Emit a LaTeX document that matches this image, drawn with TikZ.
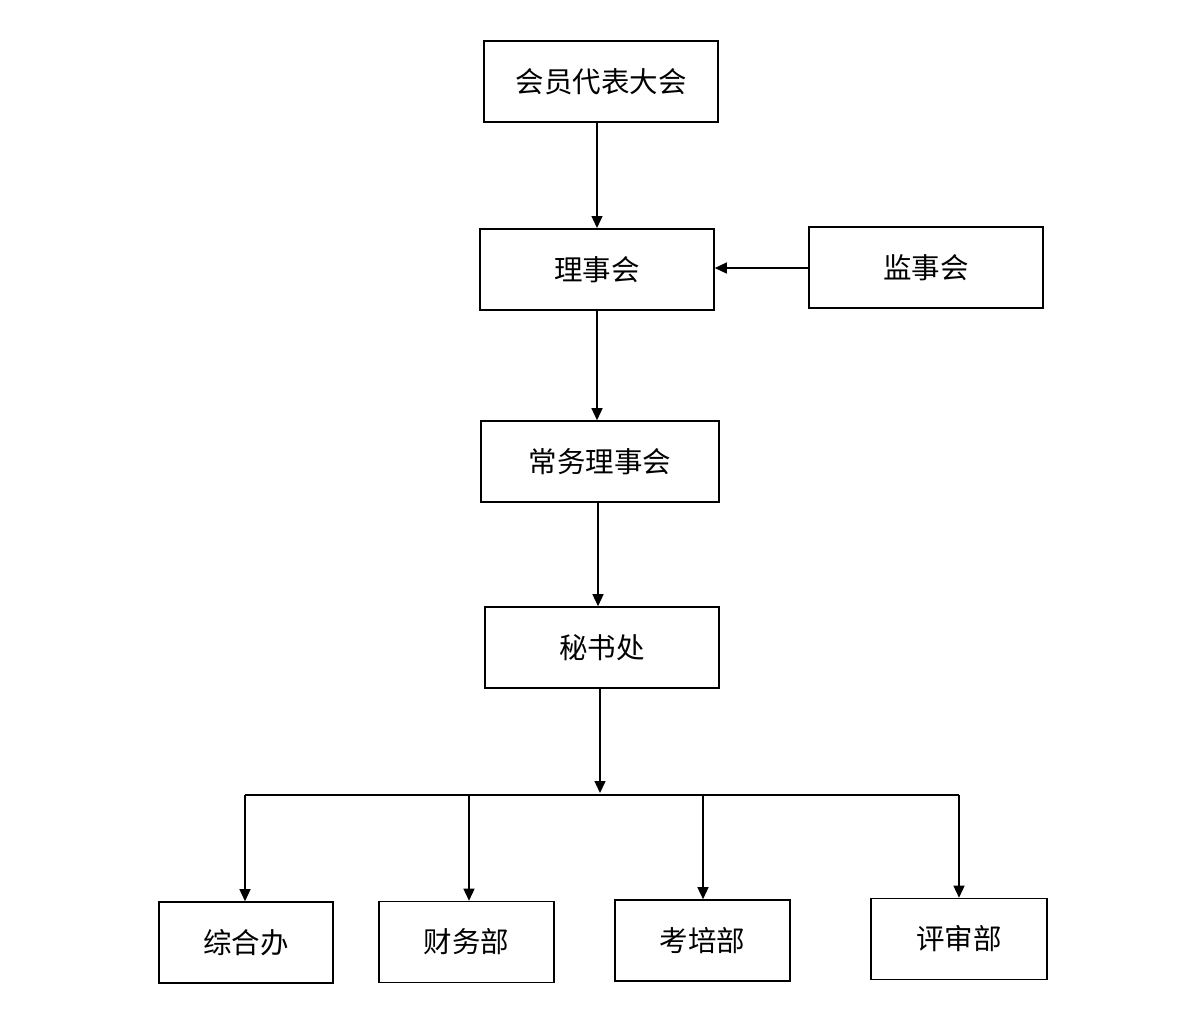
\documentclass[tikz,border=0pt]{standalone}
\usepackage{fontspec}
\newfontfamily\cjk{Noto Sans CJK SC}
\usetikzlibrary{arrows.meta}
\begin{document}
\begin{tikzpicture}[x=1pt,y=-1pt,
  box/.style={draw,line width=1.6pt,minimum height=81pt,inner sep=0pt,font=\cjk\fontsize{28.5}{32}\selectfont},
  arr/.style={line width=1.4pt,-{Triangle[length=12pt,width=11pt]}},
  ln/.style={line width=1.4pt}]
\useasboundingbox (0,0) rectangle (1196,1010);
\node[box,minimum width=234pt] (hy) at (601,81.5) {会员代表大会};
\node[box,minimum width=234pt] (ls) at (597,269.5) {理事会};
\node[box,minimum width=234pt] (js) at (926,267.5) {监事会};
\node[box,minimum width=238pt] (cw) at (600,461.5) {常务理事会};
\node[box,minimum width=234pt] (ms) at (602,647.5) {秘书处};
\node[box,minimum width=174pt] (zh) at (246,942.5) {综合办};
\node[box,minimum width=175pt] (cwb) at (466.5,942) {财务部};
\node[box,minimum width=175pt] (kp) at (702.5,940.5) {考培部};
\node[box,minimum width=176pt] (ps) at (959,939) {评审部};
\coordinate (bus) at (600,795);
\coordinate (bl) at (245,795);
\coordinate (br) at (959,795);
\coordinate (b2) at (469,795);
\coordinate (b3) at (703,795);
\draw[arr] (hy.south -| 597,0) -- (597,228);
\draw[arr] (ls.south -| 597,0) -- (cw.north -| 597,0);
\draw[arr] (js.west |- 0,268) -- (ls.east |- 0,268);
\draw[arr] (cw.south -| 598,0) -- (ms.north -| 598,0);
\draw[arr] (ms.south -| 600,0) -- (600,793);
\draw[ln] (bl) -- (br);
\draw[arr] (bl) -- (zh.north -| bl);
\draw[arr] (b2) -- (cwb.north -| b2);
\draw[arr] (b3) -- (kp.north -| b3);
\draw[arr] (br) -- (ps.north -| br);
\end{tikzpicture}
\end{document}
